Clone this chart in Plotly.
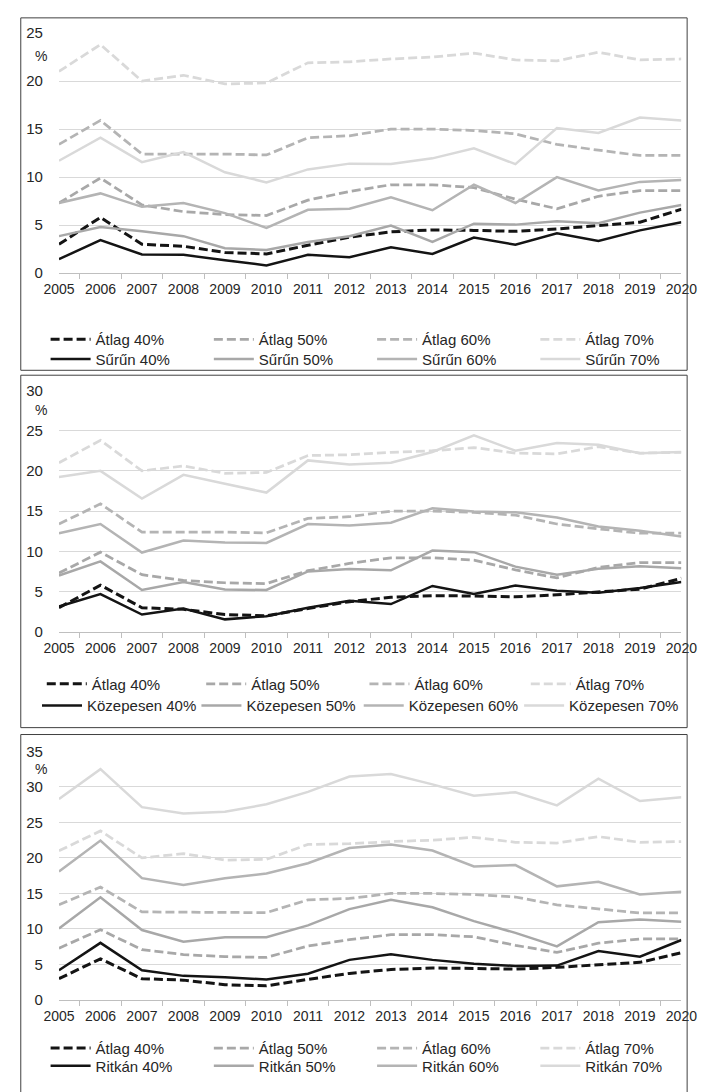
import plotly.graph_objects as go

# ---------------- data ----------------
years = [str(y) for y in range(2005, 2021)]

atlag_40 = [3.0, 5.8, 3.0, 2.8, 2.15, 2.0, 2.9, 3.75, 4.3, 4.5, 4.45, 4.35, 4.6, 4.95, 5.3, 6.65]
atlag_50 = [7.3, 9.9, 7.1, 6.4, 6.1, 6.0, 7.6, 8.5, 9.2, 9.2, 8.9, 7.7, 6.7, 8.0, 8.6, 8.6]
atlag_60 = [13.4, 15.9, 12.4, 12.4, 12.4, 12.3, 14.1, 14.3, 15.0, 15.0, 14.85, 14.5, 13.4, 12.8, 12.25, 12.25]
atlag_70 = [21.0, 23.8, 20.0, 20.6, 19.7, 19.8, 21.9, 22.0, 22.3, 22.5, 22.9, 22.2, 22.1, 23.0, 22.2, 22.3]

surun_40 = [1.45, 3.45, 1.95, 1.9, 1.35, 0.8, 1.9, 1.65, 2.7, 2.0, 3.7, 2.95, 4.15, 3.35, 4.45, 5.3]
surun_50 = [3.85, 4.8, 4.35, 3.85, 2.6, 2.4, 3.25, 3.85, 4.95, 3.25, 5.15, 5.05, 5.4, 5.2, 6.3, 7.1]
surun_60 = [7.3, 8.3, 6.9, 7.3, 6.25, 4.7, 6.6, 6.7, 7.9, 6.55, 9.2, 7.3, 10.0, 8.6, 9.5, 9.7]
surun_70 = [11.7, 14.1, 11.55, 12.6, 10.5, 9.45, 10.8, 11.4, 11.35, 11.95, 13.0, 11.35, 15.1, 14.6, 16.2, 15.9]

kozep_40 = [3.15, 4.7, 2.15, 2.9, 1.55, 1.95, 3.0, 3.85, 3.45, 5.7, 4.7, 5.75, 5.1, 4.85, 5.45, 6.2]
kozep_50 = [7.0, 8.75, 5.2, 6.2, 5.25, 5.2, 7.5, 7.8, 7.65, 10.1, 9.9, 8.1, 7.1, 7.85, 8.15, 7.9]
kozep_60 = [12.25, 13.4, 9.85, 11.35, 11.1, 11.05, 13.4, 13.2, 13.55, 15.35, 14.95, 14.85, 14.2, 13.1, 12.55, 11.85]
kozep_70 = [19.25, 20.0, 16.55, 19.5, 18.4, 17.3, 21.3, 20.8, 21.0, 22.35, 24.4, 22.5, 23.45, 23.25, 22.2, 22.35]

ritkan_40 = [4.2, 8.05, 4.2, 3.4, 3.2, 2.9, 3.7, 5.65, 6.45, 5.65, 5.1, 4.8, 4.85, 6.9, 6.1, 8.45]
ritkan_50 = [10.05, 14.45, 9.85, 8.2, 8.85, 8.85, 10.5, 12.8, 14.1, 13.05, 11.1, 9.45, 7.55, 10.95, 11.35, 11.0]
ritkan_60 = [18.1, 22.45, 17.15, 16.2, 17.15, 17.8, 19.25, 21.4, 21.9, 21.05, 18.8, 19.0, 16.0, 16.65, 14.85, 15.25]
ritkan_70 = [28.3, 32.5, 27.15, 26.25, 26.5, 27.55, 29.3, 31.45, 31.8, 30.35, 28.75, 29.25, 27.4, 31.15, 28.0, 28.55]

thresholds = ["40%", "50%", "60%", "70%"]
atlag = [atlag_40, atlag_50, atlag_60, atlag_70]
groups = [
    ("Sűrűn", [surun_40, surun_50, surun_60, surun_70], 25),
    ("Közepesen", [kozep_40, kozep_50, kozep_60, kozep_70], 30),
    ("Ritkán", [ritkan_40, ritkan_50, ritkan_60, ritkan_70], 35),
]

# ---------------- styling / geometry ----------------
W, H = 706, 1092
colors = ["#141414", "#A8A8A8", "#B4B4B4", "#D9D9D9"]
FONT = "Liberation Sans, Arial, sans-serif"
TXT = "#262626"


def fx(page_x):
    return page_x / W


def fy(page_y):
    return 1 - page_y / H


# page-pixel geometry of each panel
panels = [
    dict(top=24.3, bottom=268.3, btop=9, bbot=367, rows=(330, 350), pct=47.5,
         cols_a=(36, 207, 378, 549), cols_g=(36, 207, 378, 549)),
    dict(top=387.3, bottom=632.7, btop=372, bbot=730, rows=(680, 702), pct=407,
         cols_a=(32, 199, 370, 539), cols_g=(27, 194, 364, 532)),
    dict(top=754.0, bottom=1006.7, btop=737, bbot=1120, rows=(1050, 1068), pct=771.7,
         cols_a=(36, 207, 378, 549), cols_g=(36, 207, 378, 549)),
]
X0, X1 = 45, 697
ITEMW = 40

fig = go.Figure()
layout = dict(
    width=W, height=H,
    margin=dict(l=0, r=0, t=0, b=0),
    paper_bgcolor="white", plot_bgcolor="white",
    font=dict(family=FONT, color=TXT, size=14),
    showlegend=True,
    shapes=[], annotations=[],
)

leg_n = 0


def new_legend(page_x, row_c):
    global leg_n
    leg_n += 1
    key = "legend" if leg_n == 1 else f"legend{leg_n}"
    layout[key] = dict(
        orientation="h", x=fx(page_x - 5), xanchor="left",
        y=fy(row_c - 11), yanchor="top",
        itemwidth=ITEMW, bgcolor="rgba(0,0,0,0)", borderwidth=0,
        font=dict(size=15, color=TXT, family=FONT),
        itemclick=False, itemdoubleclick=False,
        visible=True,
    )
    return key


for p, (gname, gseries, ymax) in enumerate(groups):
    geo = panels[p]
    xs = "x" if p == 0 else f"x{p + 1}"
    ys = "y" if p == 0 else f"y{p + 1}"

    for i, thr in enumerate(thresholds):
        lg = new_legend(geo["cols_a"][i], geo["rows"][0])
        fig.add_trace(go.Scatter(
            x=years, y=atlag[i], mode="lines", name=f"Átlag {thr}",
            line=dict(color=colors[i], width=3 if i == 0 else 2.75, dash="9px,4px"),
            xaxis=xs, yaxis=ys, legend=lg, showlegend=True, hoverinfo="skip",
        ))
    for i, thr in enumerate(thresholds):
        lg = new_legend(geo["cols_g"][i], geo["rows"][1])
        fig.add_trace(go.Scatter(
            x=years, y=gseries[i], mode="lines", name=f"{gname} {thr}",
            line=dict(color=colors[i], width=2.5),
            xaxis=xs, yaxis=ys, legend=lg, showlegend=True, hoverinfo="skip",
        ))

    xkey = "xaxis" if p == 0 else f"xaxis{p + 1}"
    ykey = "yaxis" if p == 0 else f"yaxis{p + 1}"
    layout[xkey] = dict(
        type="category", domain=[fx(X0), fx(X1)], anchor=ys,
        tickson="boundaries", ticks="outside", ticklen=5, tickcolor="#BFBFBF",
        showline=True, linecolor="#BFBFBF", linewidth=1, showgrid=False,
        ticklabelstandoff=3,
        tickfont=dict(size=14, color=TXT, family=FONT), fixedrange=True,
    )
    layout[ykey] = dict(
        domain=[fy(geo["bottom"]), fy(geo["top"])], anchor=xs,
        range=[0, ymax * 1.0004], tickmode="array",
        tickvals=list(range(0, ymax + 1, 5)),
        showgrid=True, gridcolor="#D9D9D9", gridwidth=1, zeroline=False,
        showline=False, ticks="outside", ticklen=12, tickcolor="rgba(0,0,0,0)",
        tickfont=dict(size=15, color=TXT, family=FONT), fixedrange=True,
    )
    layout["shapes"].append(dict(
        type="rect", xref="paper", yref="paper",
        x0=fx(5), x1=fx(703), y0=fy(geo["bbot"]), y1=fy(geo["btop"]),
        line=dict(color="#404040", width=1), fillcolor="rgba(0,0,0,0)", layer="above",
    ))
    layout["annotations"].append(dict(
        text="%", xref="paper", yref="paper", x=fx(26), y=fy(geo["pct"]),
        xanchor="center", yanchor="middle", showarrow=False,
        font=dict(size=14, color=TXT, family=FONT),
    ))

fig.update_layout(**layout)
fig.write_html("out.html", config={"displayModeBar": False, "staticPlot": True},
               post_script="document.documentElement.style.margin='0';"
                           "document.body.style.margin='0';"
                           "document.body.style.padding='0';")
